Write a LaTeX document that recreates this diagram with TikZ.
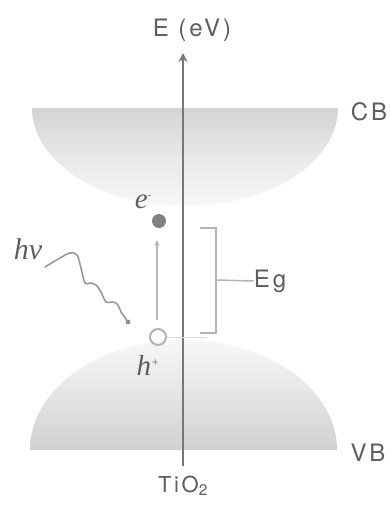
\documentclass[tikz,border=0pt]{standalone}
\usepackage{fontspec}
\setmainfont[LetterSpace=12]{TeX Gyre Heros}
\newfontfamily\serit{Liberation Serif}
\usetikzlibrary{arrows.meta}
\definecolor{txt}{HTML}{5E5E5E}
\definecolor{axisc}{HTML}{777777}
\definecolor{linec}{HTML}{B4B4B4}
\begin{document}
\begin{tikzpicture}[x=1pt,y=-1pt,
  lbl/.style={text=txt,font=\fontsize{24}{24}\selectfont,inner sep=0pt},
  ital/.style={text=txt,inner sep=0pt},
  thin line/.style={draw=linec,line width=1.5pt}]
\useasboundingbox (0,0) rectangle (390,508);
% CB bowl
\shade[top color=black!17,bottom color=black!3,middle color=black!9]
  (32,108) -- (338,108) arc[start angle=0,end angle=180,x radius=153,y radius=98] -- cycle;
% VB dome
\shade[top color=black!3,bottom color=black!18]
  (30,450) arc[start angle=180,end angle=0,x radius=153.5,y radius=-110] -- cycle;
% axis
\coordinate (ab) at (183,466);
\coordinate (at) at (183,53);
\draw[axisc,line width=2.6pt,-{Stealth[length=9pt,width=9pt]}] (ab) -- (at);
\node[lbl] (E) at (192,30) {E (eV)};
\node[lbl] (CB) at (369,112) {CB};
\node[lbl] (VB) at (368,453) {VB};
\node[lbl,font=\fontsize{22}{22}\selectfont,anchor=base] (Ti) at (183,492) {TiO\textsubscript{2}};
% electron and hole
\node[circle,fill=black!50,minimum size=14pt,inner sep=0pt] (el) at (159,221) {};
\node[circle,draw=linec,line width=2pt,minimum size=16pt,inner sep=0pt] (ho) at (158,337) {};
\node[ital,anchor=base] (elab) at (143,208) {\fontsize{29}{29}\serit\itshape e\raisebox{10pt}{\fontsize{10}{10}\selectfont -}};
\node[ital,anchor=base] (hlab) at (148,375) {\fontsize{29}{29}\serit\itshape h\raisebox{9pt}{\fontsize{12}{12}\selectfont +}};
\draw[thin line,line width=1.3pt,-{Stealth[length=6pt,width=5pt]}] (157,320) -- (157,240);
% band gap bracket
\coordinate (b1) at (200,228);
\coordinate (b2) at (216,228);
\coordinate (b3) at (216,333);
\coordinate (b4) at (200,333);
\coordinate (bm) at (216,280);
\draw[thin line] (b1) -- (b2) -- (b3) -- (b4);
\node[lbl] (Eg) at (270,281) {Eg};
\draw[thin line] (bm) -- (Eg.west);
\draw[draw=linec!50,line width=0.8pt] (ho.east) -- (207,337);
% photon
\node[ital,anchor=base] (hv) at (28,259) {\fontsize{30}{30}\serit\itshape hv};
\coordinate (ph) at (128,322);
\draw[draw=black!40,line width=1.6pt,line cap=round] plot[smooth,tension=0.6] coordinates {(45,267) (60,258) (70,253) (77,255) (81,268) (85,283) (90,283) (96,285) (101,292) (106,302) (112,302) (117,304) (121,312)} -- (ph);
\fill[black!45] (ph) circle (2.4pt);
\end{tikzpicture}
\end{document}
